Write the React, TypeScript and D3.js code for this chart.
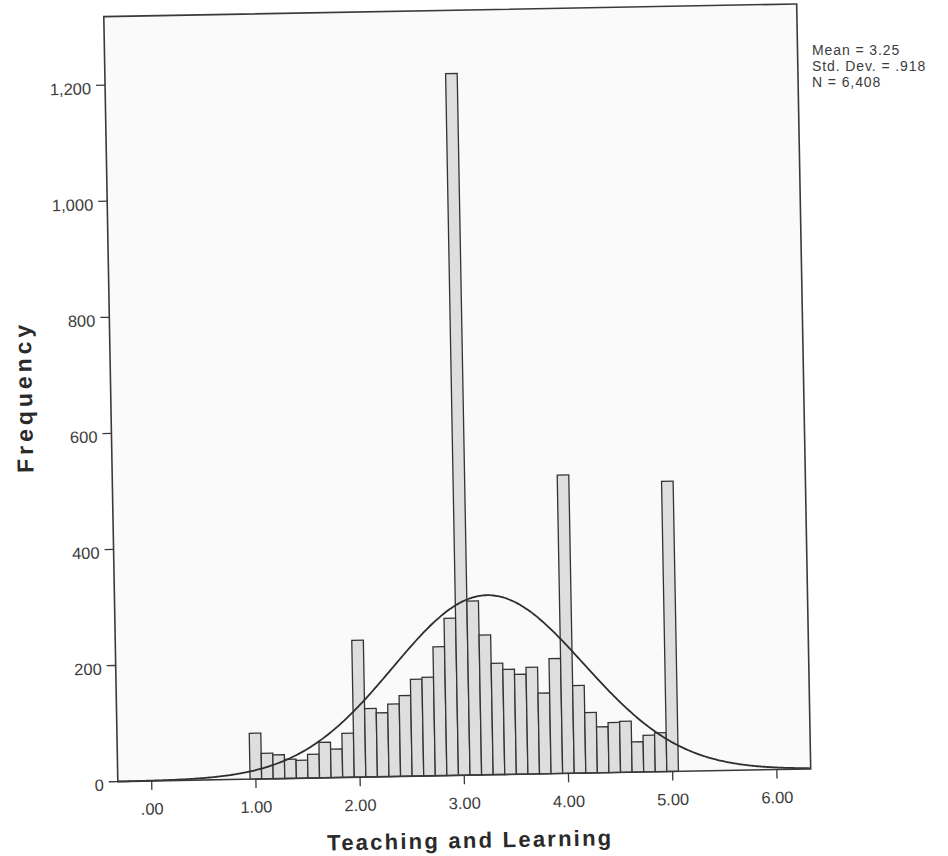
import React from "react";
import * as d3 from "d3";

// ---- data ----
// bin width 1/9, first bin centred on 1.00
const binWidth = 1 / 9;
const firstBinCenter = 1.0;
const counts = [
  79, 44, 41, 33, 31, 41, 61, 49, 76, 236,
  118, 110, 125, 139, 167, 170, 222, 271, 1209, 300,
  241, 192, 181, 172, 184, 139, 198, 514, 151, 104,
  79, 86, 88, 52, 63, 67, 500,
];
const xTicks = [0, 1, 2, 3, 4, 5, 6];
const xTickLabels = [".00", "1.00", "2.00", "3.00", "4.00", "5.00", "6.00"];
const yTicks = [0, 200, 400, 600, 800, 1000, 1200];
const yTickLabels = ["0", "200", "400", "600", "800", "1,000", "1,200"];
const statMean = 3.25;
const statSd = 0.918;
const statN = 6408;
const legendLines = ["Mean = 3.25", "Std. Dev. = .918", "N = 6,408"];
const xTitle = "Teaching and Learning";
const yTitle = "Frequency";

const W = 948;
const H = 856;
const frame = { left: 110.75, right: 803.75, top: 10.25, bottom: 775.3 };
const FONT = "'Liberation Sans', Arial, sans-serif";

export default function App() {
  const x = d3.scaleLinear().domain([-0.325, 6.325]).range([frame.left, frame.right]);
  const y = d3.scaleLinear().domain([0, 1318]).range([frame.bottom, frame.top]);

  const bins = counts.map((c, k) => {
    const c0 = firstBinCenter + k * binWidth;
    return { x0: c0 - binWidth / 2, x1: c0 + binWidth / 2, c };
  });

  const scale = statN * binWidth;
  const pdf = (v: number) =>
    (scale / (statSd * Math.sqrt(2 * Math.PI))) *
    Math.exp(-0.5 * ((v - statMean) / statSd) ** 2);
  const xs = d3.range(-0.325, 6.3251, 0.02);
  const line = d3
    .line<number>()
    .x((v) => x(v))
    .y((v) => y(pdf(v)))
    .curve(d3.curveBasis);

  const textFill = "#3c3c3c";

  return (
    <svg
      width={W}
      height={H}
      style={{ position: "absolute", left: 0, top: 0, background: "#ffffff" }}
    >
      <g transform="rotate(-1.05 457 393)">
        <rect
          x={frame.left}
          y={frame.top}
          width={frame.right - frame.left}
          height={frame.bottom - frame.top}
          fill="#fafafa"
        />
        {bins.map((b, i) => (
          <rect
            key={i}
            x={x(b.x0)}
            y={y(b.c)}
            width={x(b.x1) - x(b.x0)}
            height={y(0) - y(b.c)}
            fill="#dedede"
            stroke="#333"
            strokeWidth={1.3}
          />
        ))}
        <path d={line(xs) || ""} fill="none" stroke="#2e2e2e" strokeWidth={1.8} />
        <rect
          x={frame.left}
          y={frame.top}
          width={frame.right - frame.left}
          height={frame.bottom - frame.top}
          fill="none"
          stroke="#3a3a3a"
          strokeWidth={1.6}
        />
        {/* y axis ticks */}
        {yTicks.map((t, i) => (
          <g key={"y" + i}>
            <line
              x1={frame.left - 9}
              x2={frame.left}
              y1={y(t)}
              y2={y(t)}
              stroke="#3a3a3a"
              strokeWidth={1.3}
            />
            <text
              x={frame.left - 14}
              y={y(t) + 9}
              textAnchor="end"
              fontFamily={FONT}
              fontSize={16.5}
              fill={textFill}
            >
              {yTickLabels[i]}
            </text>
          </g>
        ))}
        {/* x axis ticks */}
        {xTicks.map((t, i) => (
          <g key={"x" + i}>
            <line
              x1={x(t)}
              x2={x(t)}
              y1={frame.bottom}
              y2={frame.bottom + 9}
              stroke="#3a3a3a"
              strokeWidth={1.3}
            />
            <text
              x={x(t)}
              y={809}
              textAnchor="middle"
              fontFamily={FONT}
              fontSize={16.5}
              fill={textFill}
            >
              {xTickLabels[i]}
            </text>
          </g>
        ))}
        {/* axis titles */}
        <text
          x={461}
          y={848}
          textAnchor="middle"
          fontFamily={FONT}
          fontWeight="bold"
          fontSize={22}
          fill="#2a2a2a"
          textLength={284}
          lengthAdjust="spacing"
        >
          {xTitle}
        </text>
        <text
          transform={`translate(32 391) rotate(-90)`}
          textAnchor="middle"
          fontFamily={FONT}
          fontWeight="bold"
          fontSize={23}
          fill="#2a2a2a"
          textLength={148}
          lengthAdjust="spacing"
        >
          {yTitle}
        </text>
      </g>
      {/* stats legend */}
      {legendLines.map((s, i) => (
        <text
          key={"l" + i}
          x={812}
          y={55 + i * 16}
          fontFamily={FONT}
          fontSize={14}
          letterSpacing={0.9}
          fill={textFill}
        >
          {s}
        </text>
      ))}
    </svg>
  );
}
